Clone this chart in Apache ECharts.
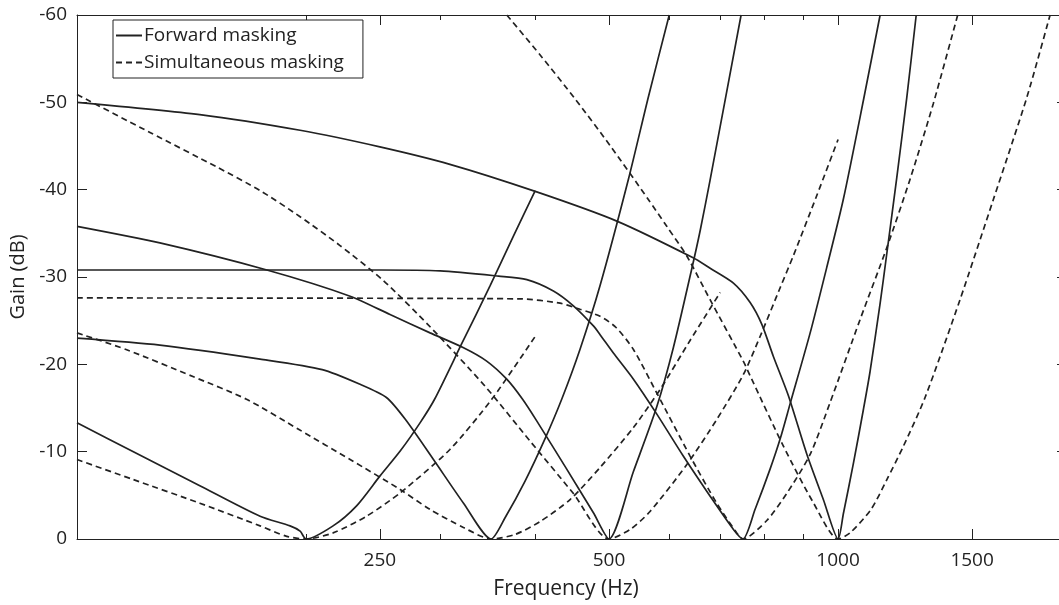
<!DOCTYPE html>
<html>
<head>
<meta charset="utf-8">
<title>Forward vs simultaneous masking</title>
<script src="https://cdn.jsdelivr.net/npm/echarts@6/dist/echarts.min.js"></script>
<style>
  html, body { margin: 0; padding: 0; background: #ffffff; }
  #chart { width: 1059px; height: 605px; }
</style>
</head>
<body>
<div id="chart"></div>
<script>
// Frequency axis (log scale, Hz) and gain axis (dB)
const freqRange = [100, 1951];
const freqMajorTicks = [250, 500, 1000, 1500];
const freqMinorTicks = [200, 300, 400, 600, 700, 800, 900];
const gainRange = [-60, 0];
const gainStep = 10;

// Forward-masking filter shapes: [frequency Hz, gain dB]
const forward200 = [[100,-13.3],[118.6,-10.0],[145,-6.1],[174,-2.6],[190.5,-1.5],[196.4,-0.9],[200,0],[217,-1.5],[233,-3.8],[250,-7.2],[266,-10.1],[282.3,-13.3],[295,-16.0],[320,-22.3],[349,-29.0],[375,-34.8],[400,-39.9]];
const forward350 = [[100,-23.0],[128.5,-22.2],[174,-20.6],[210,-19.4],[235,-17.75],[255,-16.2],[270,-13.7],[294,-9.1],[322,-4.1],[350,0],[365.1,-2.43],[387.9,-6.63],[412.1,-11.49],[433.5,-16.03],[458.1,-21.73],[486.7,-29.02],[530.4,-41.22],[563.6,-50.7],[600,-60]];
const forward500 = [[100,-35.8],[128.5,-33.9],[177.6,-30.8],[228.5,-27.8],[257.8,-25.7],[291,-23.6],[322,-21.9],[345,-20.4],[367,-18.3],[385,-16.0],[402,-13.5],[440,-8.0],[477,-3.0],[500,0],[538.4,-7.73],[577.9,-15.17],[607.6,-21.93],[642,-30.86],[658.8,-35.3],[678.9,-41.1],[745.7,-60]];
const forward750 = [[100,-30.8],[250,-30.8],[300,-30.7],[358,-30.1],[390,-29.7],[422.6,-28.4],[449,-26.7],[477,-24.4],[486.7,-23.4],[506.7,-21.3],[538.4,-18.3],[577.9,-14.3],[626,-9.5],[679,-4.9],[728.6,-1.1],[750,0],[778,-3.4],[814,-8.0],[839.5,-11.5],[865,-15.5],[919,-23.6],[966.3,-31.1],[1016,-38.9],[1080,-50.3],[1135.6,-60]];
const forward1000 = [[100,-50.0],[145,-48.6],[196.4,-46.8],[250,-44.9],[309,-42.9],[400,-39.8],[512,-36.4],[645,-32.2],[679,-31.0],[728.6,-29.3],[766,-27.1],[793.7,-24.6],[822.2,-20.9],[860.5,-16.4],[909.8,-9.7],[956.6,-4.5],[1000,0],[1016.2,-2.92],[1047.4,-8.65],[1079.6,-14.83],[1101.6,-19.18],[1135.6,-26.97],[1158.8,-32.69],[1194.3,-41.39],[1231.1,-50.56],[1266.6,-60]];

// Simultaneous-masking filter shapes: [frequency Hz, gain dB]
const simultaneous200 = [[100,-9.1],[118.6,-6.8],[145,-4.1],[174,-1.5],[188.6,-0.3],[200,0],[217,-0.7],[240,-2.6],[266,-5.3],[309,-10.25],[350.7,-16.0],[400,-23.2]];
const simultaneous350 = [[100,-23.6],[116,-21.7],[142,-18.6],[167,-16.0],[196,-12.5],[228.5,-9.1],[265.8,-5.67],[291,-3.38],[321.9,-1.32],[350,0],[376.3,-0.52],[406,-2.0],[444.5,-4.52],[486.7,-8.19],[538.4,-12.77],[583.6,-17.12],[639,-22.73],[700,-28.23]];
const simultaneous500 = [[100,-50.9],[124.7,-46.55],[152.6,-42.6],[174,-39.9],[196.4,-36.9],[221.6,-33.6],[252.6,-29.6],[291,-24.3],[343.6,-17.5],[393.9,-11.2],[449,-5.2],[500,0],[533.1,-1.09],[566.1,-3.15],[632.8,-8.53],[692.7,-13.68],[750.9,-18.84],[789.8,-23.19],[839.5,-28.8],[873.6,-32.46],[937.6,-39.33],[1000,-45.75]];
const simultaneous750 = [[100,-27.6],[382,-27.5],[431.3,-27.0],[458,-26.3],[486.7,-25.5],[510.8,-24.22],[538.4,-21.7],[577.9,-16.7],[639,-9.5],[692.7,-4.1],[736,-0.7],[750,0],[806,-2.12],[856,-5.21],[918.9,-9.68],[976.1,-15.63],[1068.8,-25.13],[1159,-33.38],[1243,-41.17],[1334,-49.87],[1436,-60]];
const simultaneous1000 = [[367,-60],[406,-55.42],[451.2,-50.4],[501.7,-45.05],[563.2,-38.88],[595.5,-35.8],[632.8,-32.4],[678.9,-27.4],[750.9,-20.33],[770,-18.3],[847.5,-10.63],[928,-4.15],[1000,0],[1037,-0.7],[1105,-3.4],[1159,-6.8],[1218,-10.6],[1301,-16.2],[1446,-27.4],[1600,-38.9],[1770,-50.56],[1899,-60]];

const forwardCurves = [forward200, forward350, forward500, forward750, forward1000];
const simultaneousCurves = [simultaneous200, simultaneous350, simultaneous500, simultaneous750, simultaneous1000];

const FORWARD = 'Forward masking';
const SIMULTANEOUS = 'Simultaneous masking';
const INK = '#222222';
const FONT = '"Open Sans", "Noto Sans", sans-serif';
const CLEAR = 'rgba(0,0,0,0)';

function curveSeries(name, data, dashed) {
  return {
    type: 'line',
    name: name,
    data: data,
    xAxisIndex: 0,
    yAxisIndex: 0,
    symbol: 'none',
    smooth: 0.25,
    clip: true,
    silent: true,
    lineStyle: { color: INK, width: 1.7, type: dashed ? [6, 4] : 'solid' },
    itemStyle: { color: INK }
  };
}

// Frequency axes: bottom/top, each split into long (labelled) and short ticks
function freqAxis(position, ticks, tickLen, showLabels, showLine) {
  return {
    type: 'log',
    logBase: 10,
    position: position,
    min: freqRange[0],
    max: freqRange[1],
    axisLine: { show: showLine, lineStyle: { color: INK, width: 1 } },
    axisTick: { show: true, inside: true, length: tickLen, customValues: ticks, lineStyle: { color: INK, width: 1 } },
    axisLabel: showLabels
      ? { show: true, customValues: ticks, margin: 12, color: INK, fontFamily: FONT, fontSize: 19,
          formatter: v => String(v) }
      : { show: false },
    splitLine: { show: false },
    minorTick: { show: false },
    name: showLabels ? 'Frequency (Hz)' : '',
    nameLocation: 'middle',
    nameGap: 40,
    nameTextStyle: { color: INK, fontFamily: FONT, fontSize: 21, padding: [0, 4, 0, 0] }
  };
}

function gainAxis(position, showLabels) {
  return {
    type: 'value',
    position: position,
    inverse: true,
    min: gainRange[0],
    max: gainRange[1],
    interval: gainStep,
    axisLine: { show: showLabels, onZero: false, lineStyle: { color: INK, width: 1 } },
    axisTick: { show: true, inside: true, length: showLabels ? 10 : 2, lineStyle: { color: INK, width: 1 } },
    axisLabel: { show: showLabels, margin: 10, color: INK, fontFamily: FONT, fontSize: 19 },
    splitLine: { show: false },
    name: showLabels ? 'Gain (dB)' : '',
    nameLocation: 'middle',
    nameGap: 42,
    nameTextStyle: { color: INK, fontFamily: FONT, fontSize: 20 }
  };
}

const series = [];
forwardCurves.forEach(d => series.push(curveSeries(FORWARD, d, false)));
simultaneousCurves.forEach(d => series.push(curveSeries(SIMULTANEOUS, d, true)));

const chart = echarts.init(document.getElementById('chart'), null, { renderer: 'canvas' });
chart.setOption({
  animation: false,
  backgroundColor: '#ffffff',
  grid: { left: 77, top: 15, right: 0, height: 524, containLabel: false },
  xAxis: [
    freqAxis('bottom', freqMajorTicks, 10, true, true),
    freqAxis('bottom', freqMinorTicks, 5, false, false),
    freqAxis('top', freqMajorTicks, 10, false, true),
    freqAxis('top', freqMinorTicks, 5, false, false)
  ],
  yAxis: [
    gainAxis('left', true),
    gainAxis('right', false)
  ],
  legend: {
    data: [FORWARD, SIMULTANEOUS],
    orient: 'vertical',
    left: 113,
    top: 20,
    itemWidth: 26,
    itemHeight: 14,
    itemGap: 4,
    padding: [4, 19, 4, 2],
    backgroundColor: '#ffffff',
    borderColor: INK,
    borderWidth: 1,
    borderRadius: 0,
    selectedMode: false,
    itemStyle: { color: CLEAR, borderColor: CLEAR, borderWidth: 0 },
    textStyle: { color: INK, fontFamily: FONT, fontSize: 19, lineHeight: 23, padding: [0, 0, 0, -3] }
  },
  series: series
});
</script>
</body>
</html>
